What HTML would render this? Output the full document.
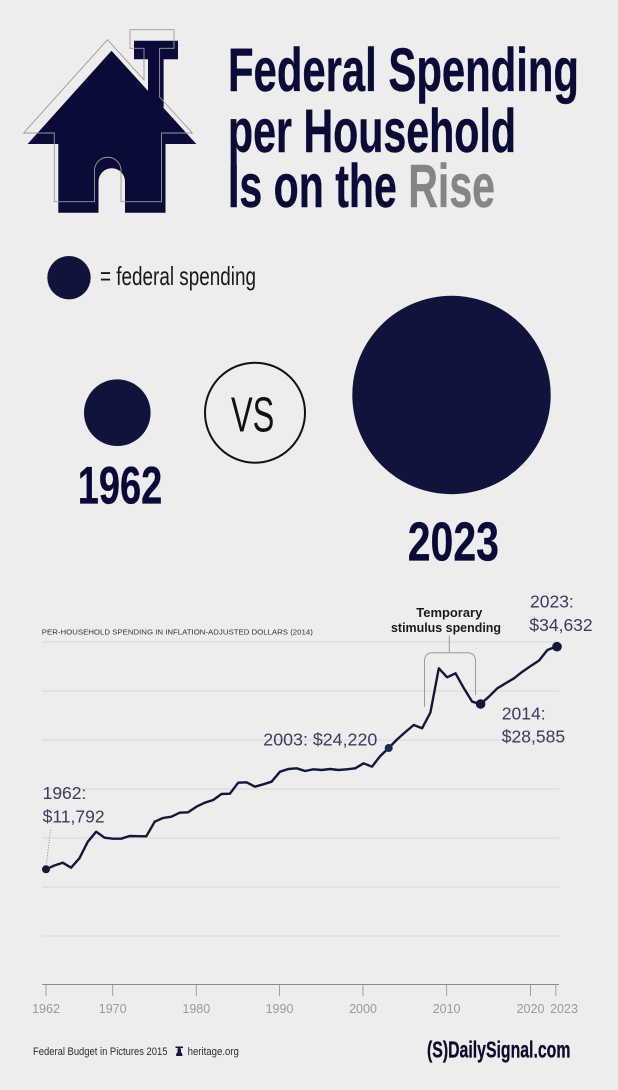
<!DOCTYPE html>
<html><head><meta charset="utf-8"><style>
html,body{margin:0;padding:0;background:#ededed;}
svg{display:block;}
text{font-family:"Liberation Sans",sans-serif;}
</style></head><body>
<svg width="618" height="1090" viewBox="0 0 618 1090" xmlns="http://www.w3.org/2000/svg">
<rect x="0" y="0" width="618" height="1090" fill="#ededed"/>

<!-- House icon -->
<path d="M111.5,50.7 L148,90.9 L148,59.3 L134,59.3 L134,40.7 L178,40.7 L178,59.3 L163.6,59.3 L163.6,108 L196.3,144 L165.5,144 L165.5,212.7 L125,212.7 L125,181.5 A13.25,13.25 0 0 0 98.5,181.5 L98.5,212.7 L58.3,212.7 L58.3,144 L27.6,144 Z" fill="#0b0b3a"/>
<path transform="translate(-4,-11)" d="M111.5,50.7 L148,90.9 L148,59.3 L134,59.3 L134,40.7 L178,40.7 L178,59.3 L163.6,59.3 L163.6,108 L196.3,144 L165.5,144 L165.5,212.7 L125,212.7 L125,181.5 A13.25,13.25 0 0 0 98.5,181.5 L98.5,212.7 L58.3,212.7 L58.3,144 L27.6,144 Z" fill="none" stroke="#9a9a9a" stroke-width="0.9"/>

<!-- Title -->
<g fill="#0b0b38" stroke="#0b0b38" stroke-width="0.4" font-weight="bold" font-size="61">
<text x="228" y="91" textLength="351" lengthAdjust="spacingAndGlyphs">Federal Spending</text>
<text x="228" y="152" textLength="288" lengthAdjust="spacingAndGlyphs">per Household</text>
<text x="228" y="207" textLength="267" lengthAdjust="spacingAndGlyphs">Is on the <tspan fill="#858585" stroke="#858585">Rise</tspan></text>
</g>

<!-- Legend -->
<circle cx="69" cy="277.7" r="21.7" fill="#10143c"/>
<text x="100" y="285" font-size="26" fill="#1a1a1a" textLength="156" lengthAdjust="spacingAndGlyphs">= federal spending</text>

<!-- Comparison -->
<circle cx="117.3" cy="412.7" r="33.3" fill="#10143c"/>
<text x="77.7" y="503.3" font-size="53" font-weight="bold" fill="#0a0a38" stroke="#0a0a38" stroke-width="0.3" textLength="84.6" lengthAdjust="spacingAndGlyphs">1962</text>
<circle cx="255" cy="412.7" r="50" fill="none" stroke="#111" stroke-width="2"/>
<text x="231" y="431.7" font-size="49" fill="#111" textLength="43.3" lengthAdjust="spacingAndGlyphs">VS</text>
<circle cx="451.5" cy="395" r="99.2" fill="#10143c"/>
<text x="407.7" y="560.7" font-size="54.5" font-weight="bold" fill="#0a0a38" stroke="#0a0a38" stroke-width="0.3" textLength="91.3" lengthAdjust="spacingAndGlyphs">2023</text>

<!-- Chart subtitle -->
<text x="41.8" y="634.3" font-size="7.3" fill="#333" textLength="271" lengthAdjust="spacingAndGlyphs">PER-HOUSEHOLD SPENDING IN INFLATION-ADJUSTED DOLLARS (2014)</text>

<!-- Gridlines -->
<g stroke="#d6d6d6" stroke-width="1">
<line x1="42" y1="642" x2="559" y2="642"/>
<line x1="42" y1="691" x2="559" y2="691"/>
<line x1="42" y1="740" x2="559" y2="740"/>
<line x1="42" y1="789" x2="559" y2="789"/>
<line x1="42" y1="838" x2="559" y2="838"/>
<line x1="42" y1="887" x2="559" y2="887"/>
<line x1="42" y1="936" x2="559" y2="936"/>
</g>
<!-- Axis -->
<line x1="42" y1="984.5" x2="559" y2="984.5" stroke="#8a8a8a" stroke-width="1"/>
<g stroke="#a0a0a0" stroke-width="1">
<line x1="46" y1="985" x2="46" y2="996"/>
<line x1="112.7" y1="985" x2="112.7" y2="996"/>
<line x1="196.3" y1="985" x2="196.3" y2="996"/>
<line x1="279.5" y1="985" x2="279.5" y2="996"/>
<line x1="363" y1="985" x2="363" y2="996"/>
<line x1="446.6" y1="985" x2="446.6" y2="996"/>
<line x1="530.5" y1="985" x2="530.5" y2="996"/>
<line x1="555.8" y1="985" x2="555.8" y2="996"/>
</g>
<g font-size="12.5" fill="#9a9a9a" text-anchor="middle">
<text x="46" y="1013">1962</text>
<text x="112.7" y="1013">1970</text>
<text x="196.3" y="1013">1980</text>
<text x="279.5" y="1013">1990</text>
<text x="363" y="1013">2000</text>
<text x="446.6" y="1013">2010</text>
<text x="530.5" y="1013">2020</text>
<text x="564" y="1013">2023</text>
</g>

<!-- Stimulus bracket -->
<path d="M424.5,706.7 L424.5,661 Q424.5,652.7 433,652.7 L467,652.7 Q475.5,652.7 475.5,661 L475.5,695" fill="none" stroke="#9a9a9a" stroke-width="1"/>
<line x1="449.3" y1="652.7" x2="449.3" y2="635.5" stroke="#9a9a9a" stroke-width="1"/>
<text x="449.3" y="617" font-size="12.5" font-weight="bold" fill="#1a1a1a" text-anchor="middle" textLength="66" lengthAdjust="spacingAndGlyphs">Temporary</text>
<text x="446" y="632" font-size="12.5" font-weight="bold" fill="#1a1a1a" text-anchor="middle" textLength="110" lengthAdjust="spacingAndGlyphs">stimulus spending</text>

<!-- Data line -->
<polyline fill="none" stroke="#14163a" stroke-width="2.4" stroke-linejoin="round" points="46,869.3 54.4,865.5 62.7,862.7 71.1,867.7 79.4,858.3 87.8,841.7 96.2,831.7 104.5,837.7 112.9,838.7 121.2,838.7 129.6,836 137.9,836.2 146.3,836.3 154.7,821.7 163,818 171.4,816.7 179.7,812.7 188.1,812.3 196.4,806.7 204.8,802.7 213.2,800 221.5,794 229.9,793.7 238.2,782.7 246.6,782.3 254.9,786.7 263.3,784.3 271.6,781.7 280,771.7 288.4,769 296.7,768.3 305.1,771 313.4,769.3 321.8,770 330.2,769 338.5,770 346.9,769.3 355.2,768.3 363.6,763.3 371.9,766.7 380.3,756 388.7,748 397,739.5 405.4,732 413.7,725 422.1,728.3 430.4,712.5 438.8,668.3 447.2,677.3 455.5,673.3 463.9,688.3 472.2,701.7 480.6,704 488.9,696.7 497.3,688.3 505.6,683.3 514,678.3 522.4,671.7 530.7,666 539.1,660.5 547.4,650 555.8,646.7"/>

<!-- Points -->
<circle cx="46" cy="869.3" r="4" fill="#14163a"/>
<circle cx="388.7" cy="748" r="4" fill="#1a2a5a"/>
<circle cx="480.6" cy="704" r="4.8" fill="#14163a"/>
<circle cx="557" cy="646.7" r="4.8" fill="#14163a"/>

<!-- 1962 leader -->
<line x1="50.5" y1="830" x2="46.3" y2="865" stroke="#777" stroke-width="0.8" stroke-dasharray="1,1.5"/>

<!-- Annotations -->
<g font-size="17.5" fill="#3a3a62">
<text x="42.6" y="799">1962:</text>
<text x="42.6" y="822.7">$11,792</text>
<text x="263.3" y="745.7" textLength="114" lengthAdjust="spacingAndGlyphs">2003: $24,220</text>
<text x="501.8" y="719.3">2014:</text>
<text x="501.8" y="742.7">$28,585</text>
<text x="530" y="607.3">2023:</text>
<text x="529.4" y="631">$34,632</text>
</g>

<!-- Footer -->
<text x="33" y="1055" font-size="11" fill="#2a2a3a" textLength="134.5" lengthAdjust="spacingAndGlyphs">Federal Budget in Pictures 2015</text>
<path d="M176,1056 L182.5,1056 L182,1053 L181,1052.5 L181,1049 Q179.2,1046.5 177.5,1049 L177.5,1052.5 L176.5,1053 Z" fill="#14163a"/>
<rect x="175.5" y="1046.5" width="7.5" height="1.6" fill="#14163a"/>
<text x="187.6" y="1055" font-size="11" fill="#2a2a3a" textLength="51.3" lengthAdjust="spacingAndGlyphs">heritage.org</text>
<text x="427" y="1057.7" font-size="23" font-weight="bold" fill="#0d0d2b" stroke="#0d0d2b" stroke-width="0.3" textLength="143.4" lengthAdjust="spacingAndGlyphs">(S)DailySignal.com</text>
</svg>
</body></html>
